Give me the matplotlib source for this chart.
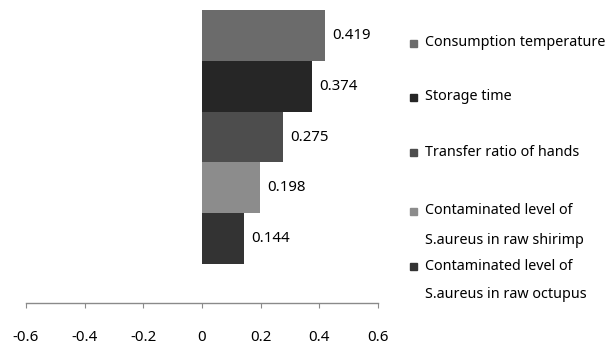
import matplotlib
matplotlib.use("Agg")
import matplotlib.pyplot as plt
from matplotlib.patches import Rectangle

plt.rcParams['font.family'] = ['Noto Sans', 'DejaVu Sans']

categories = ["Consumption temperature", "Storage time", "Transfer ratio of hands",
              "Contaminated level of\nS.aureus in raw shirimp",
              "Contaminated level of\nS.aureus in raw octupus"]
values = [0.419, 0.374, 0.275, 0.198, 0.144]
colors = ["#6b6b6b", "#262626", "#4d4d4d", "#8c8c8c", "#333333"]
xticks = [-0.6, -0.4, -0.2, 0, 0.2, 0.4, 0.6]
xticklabels = ["-0.6", "-0.4", "-0.2", "0", "0.2", "0.4", "0.6"]

W, H = 615, 349
fig = plt.figure(figsize=(W / 100, H / 100), dpi=100)
ax = fig.add_axes([26 / W, (H - 303.3) / H, 352 / W, (303.3 - 10) / H])

pos = list(range(len(values)))
ax.barh(pos, values, height=1.0, color=colors, edgecolor='none')
for p, v in zip(pos, values):
    ax.annotate(f"{v:.3f}", (v, p), xytext=(5.3, 0), textcoords='offset points',
                va='center', ha='left', fontsize=10.8, color='black')

ax.set_xlim(-0.6, 0.6)
ax.set_ylim(5.27, -0.5)
ax.set_xticks(xticks)
ax.set_xticklabels(xticklabels, fontsize=10.8)
ax.set_yticks([])
for s in ['top', 'right', 'left']:
    ax.spines[s].set_visible(False)
ax.spines['bottom'].set_color('#8a8a8a')
ax.spines['bottom'].set_linewidth(1.0)
ax.tick_params(axis='x', direction='out', length=3.6, color='#8a8a8a', pad=15.5)

# legend (manual, Excel-like)
first_line_y = [43, 97, 152, 211, 266]
for c, lab, y in zip(colors, categories, first_line_y):
    fig.patches.append(Rectangle((410 / W, (H - y - 4) / H), 7 / W, 7 / H,
                                 transform=fig.transFigure, color=c))
    lines = lab.split("\n")
    for i, ln in enumerate(lines):
        fig.text(425 / W, (H - (y + 29 * i)) / H, ln, fontsize=10.3,
                 va='center', ha='left', color='black')

fig.savefig("out.png", dpi=100)
